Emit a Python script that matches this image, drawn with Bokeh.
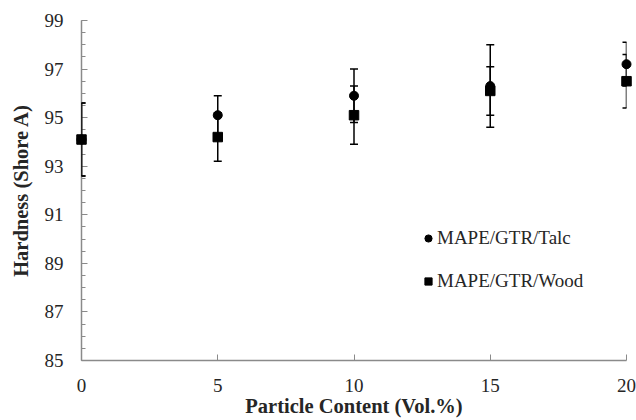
from bokeh.plotting import figure
from bokeh.models import (Range1d, FixedTicker, Whisker, TeeHead,
                          ColumnDataSource, Legend, LegendItem)
from bokeh.embed import file_html
from bokeh.resources import INLINE

# ---- data ----
particle_content = [0, 5, 10, 15, 20]
talc_hardness = [94.1, 95.1, 95.9, 96.3, 97.2]
talc_error = [1.5, 0.8, 1.1, 1.7, 0.9]
wood_hardness = [94.1, 94.2, 95.1, 96.1, 96.5]
wood_error = [1.5, 1.0, 1.2, 1.0, 1.1]
series_labels = ["MAPE/GTR/Talc", "MAPE/GTR/Wood"]
y_ticks = [85, 87, 89, 91, 93, 95, 97, 99]
y_minor_ticks = [85 + 0.5 * i for i in range(29)]
x_ticks = [0, 5, 10, 15, 20]

FONT = "Liberation Serif"
TEXT = "#262626"
AXIS = "#8a8a8a"

p = figure(width=636, height=420, output_backend="svg", toolbar_location=None,
           x_range=Range1d(0, 20), y_range=Range1d(85, 99),
           min_border_left=81, min_border_right=10, min_border_top=20,
           min_border_bottom=60)
p.outline_line_color = None
p.xgrid.grid_line_color = None
p.ygrid.grid_line_color = None
p.background_fill_color = "white"
p.border_fill_color = "white"

# axes
xa = p.xaxis[0]
xa.ticker = FixedTicker(ticks=x_ticks, minor_ticks=[])
ya = p.yaxis[0]
ya.ticker = FixedTicker(ticks=y_ticks, minor_ticks=y_minor_ticks)
for ax in (xa, ya):
    ax.axis_line_color = AXIS
    ax.axis_line_width = 1.5
    ax.major_tick_line_color = AXIS
    ax.minor_tick_line_color = AXIS
    ax.major_tick_in = 6
    ax.major_tick_out = 0
    ax.minor_tick_in = 4
    ax.minor_tick_out = 0
    ax.major_label_text_font = FONT
    ax.major_label_text_font_size = "19px"
    ax.major_label_text_color = TEXT
    ax.axis_label_text_font = FONT
    ax.axis_label_text_font_size = "20.5px"
    ax.axis_label_text_font_style = "bold"
    ax.axis_label_text_color = TEXT
xa.axis_label = "Particle Content (Vol.%)"
ya.axis_label = "Hardness (Shore A)"
xa.major_label_standoff = 18
xa.axis_label_standoff = 0
ya.major_label_standoff = 18
ya.axis_label_standoff = 10

talc_src = ColumnDataSource(dict(
    x=particle_content, y=talc_hardness,
    lo=[v - e for v, e in zip(talc_hardness, talc_error)],
    hi=[v + e for v, e in zip(talc_hardness, talc_error)]))
wood_src = ColumnDataSource(dict(
    x=particle_content, y=wood_hardness,
    lo=[v - e for v, e in zip(wood_hardness, wood_error)],
    hi=[v + e for v, e in zip(wood_hardness, wood_error)]))

for src in (talc_src, wood_src):
    w = Whisker(source=src, base="x", upper="hi", lower="lo", dimension="height",
                line_color="black", line_width=1.5, level="overlay",
                upper_head=TeeHead(size=8, line_color="black", line_width=1.5),
                lower_head=TeeHead(size=8, line_color="black", line_width=1.5))
    p.add_layout(w)

r_talc = p.scatter("x", "y", source=talc_src, marker="circle", size=9,
                   fill_color="black", line_color="black", level="overlay")
r_wood = p.scatter("x", "y", source=wood_src, marker="square", size=9.5,
                   fill_color="black", line_color="black", level="overlay")

legend = Legend(items=[LegendItem(label=series_labels[0], renderers=[r_talc]),
                       LegendItem(label=series_labels[1], renderers=[r_wood])],
                location=(338, 68), orientation="vertical",
                glyph_width=18, glyph_height=18, label_height=18,
                label_standoff=0, spacing=21, padding=0, margin=0,
                border_line_color=None, background_fill_alpha=0,
                label_text_font=FONT, label_text_font_size="19px",
                label_text_color=TEXT)
p.add_layout(legend, "center")

open("out.html", "w").write(file_html(p, INLINE))
